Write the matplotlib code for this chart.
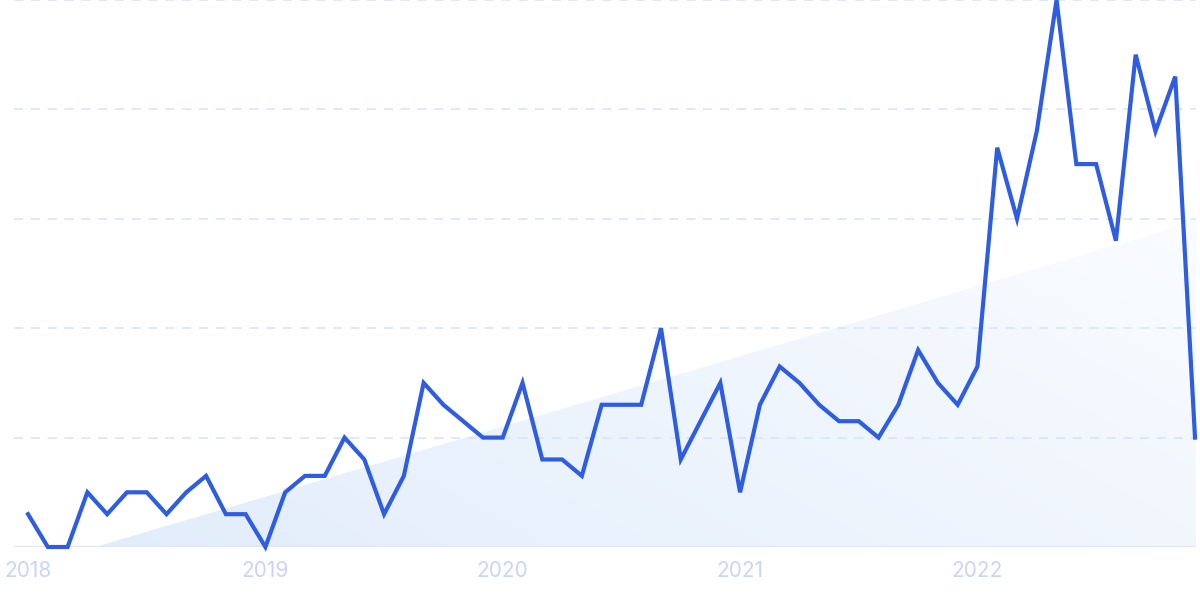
import numpy as np
import matplotlib
matplotlib.use('Agg')
import matplotlib.pyplot as plt
from matplotlib.patches import Polygon

# Datos mensuales (ene 2018 - dic 2022), escala 0-100
months = np.arange(60)
values = [6, 0, 0, 10, 6, 10, 10, 6, 10, 13,
          6, 6, 0, 10, 13, 13, 20, 16, 6, 13,
          30, 26, 23, 20, 20, 30, 16, 16, 13, 26,
          26, 26, 40, 16, 23, 30, 10, 26, 33, 30,
          26, 23, 23, 20, 26, 36, 30, 26, 33, 73,
          60, 76, 100, 70, 70, 56, 90, 76, 86, 20]

year_ticks = [0, 12, 24, 36, 48]
year_labels = ['2018', '2019', '2020', '2021', '2022']

# Cuna de tendencia (sombreado de fondo)
trend_x = [3.4, 59.05]
trend_y = [0, 59.5]

grid_levels = [20, 40, 60, 80, 100]

plt.rcParams['font.family'] = ['Inter', 'DejaVu Sans']

fig = plt.figure(figsize=(12, 5.99), dpi=100)
ax = fig.add_axes([14 / 1200, 52 / 599, 1182 / 1200, 547 / 599])
ax.set_xlim(-0.71, 59.05)
ax.set_ylim(0, 100)

# Sombreado con degradado
poly = Polygon([(trend_x[0], trend_y[0]), (trend_x[1], trend_y[1]), (trend_x[1], 0)],
               closed=True, facecolor='none', edgecolor='none')
ax.add_patch(poly)
gx, gy = np.meshgrid(np.linspace(0, 1, 200), np.linspace(0, 1, 100))
t = np.clip(0.65 * gx + 0.35 * (1 - gy), 0, 1)
c0 = np.array([0xe2, 0xed, 0xfb]) / 255
c1 = np.array([0xfa, 0xfc, 0xff]) / 255
img = c0[None, None, :] * (1 - t[..., None]) + c1[None, None, :] * t[..., None]
im = ax.imshow(img, extent=[trend_x[0], trend_x[1], 0, trend_y[1]], origin='upper',
               aspect='auto', zorder=1)
im.set_clip_path(poly)

# Lineas de cuadricula
for lv in grid_levels:
    ax.axhline(lv, color='#d6e3fa', lw=1.1, ls=(0, (6, 5)), zorder=2, clip_on=False)
ax.axhline(0, color='#dde5f7', lw=1.5, zorder=2)

ax.plot(months, values, color='#2e5de2', lw=3.0, solid_joinstyle='miter',
        zorder=3, clip_on=False)

ax.set_xticks(year_ticks)
ax.set_xticklabels(year_labels, fontsize=15, color='#c9d5f4')
ax.tick_params(axis='x', length=0, pad=10)
ax.set_yticks([])
for s in ax.spines.values():
    s.set_visible(False)

fig.savefig('out.png', dpi=100)
